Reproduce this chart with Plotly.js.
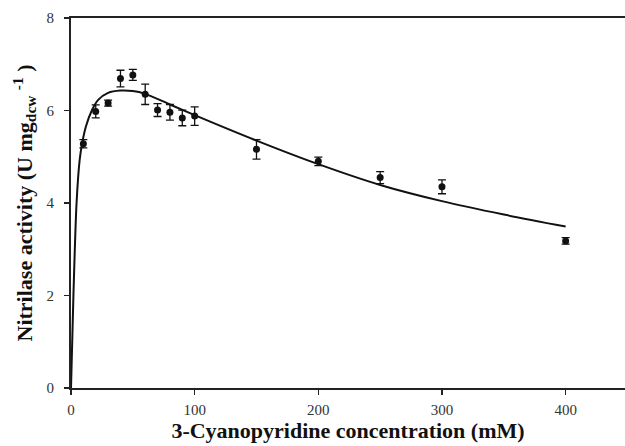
<!DOCTYPE html>
<html>
<head>
<meta charset="utf-8">
<script src="https://cdn.plot.ly/plotly-3.0.1.min.js"></script>
<style>html,body{margin:0;padding:0;background:#fff;}#chart{width:625px;height:446px;}</style>
</head>
<body>
<div id="chart"></div>
<script>
// Measured points (3-cyanopyridine concentration, mM)
var concentration = [10, 20, 30, 40, 50, 60, 70, 80, 90, 100, 150, 200, 250, 300, 400];
var activity      = [5.28, 5.98, 6.16, 6.69, 6.77, 6.35, 6.01, 5.96, 5.84, 5.88, 5.16, 4.90, 4.55, 4.35, 3.18];
var activityErr   = [0.09, 0.14, 0.065, 0.18, 0.12, 0.22, 0.14, 0.17, 0.17, 0.20, 0.21, 0.09, 0.13, 0.15, 0.07];

// Fitted curve
var fitX = [0, 2, 4.5, 7, 9, 12, 17, 22, 30, 40, 50, 60, 80, 100, 150, 200, 250, 300, 350, 400];
var fitY = [0, 2.04, 4.0, 4.93, 5.29, 5.65, 6.01, 6.23, 6.38, 6.43, 6.42, 6.36, 6.13, 5.9, 5.35, 4.84, 4.39, 4.04, 3.75, 3.49];

var xTicks = [0, 100, 200, 300, 400];
var yTicks = [0, 2, 4, 6, 8];

var serif = "Liberation Serif, Times New Roman, serif";

var traces = [
  {
    x: fitX, y: fitY, type: 'scatter', mode: 'lines',
    line: {color: '#111', width: 2, shape: 'spline', smoothing: 0.8},
    hoverinfo: 'skip', cliponaxis: false
  },
  {
    x: concentration, y: activity, type: 'scatter', mode: 'markers',
    marker: {color: '#111', size: 7},
    error_y: {type: 'data', array: activityErr, visible: true, color: '#111', thickness: 1.3, width: 4}
  }
];

var layout = {
  width: 625, height: 446,
  margin: {l: 71, r: 0, t: 18, b: 58},
  paper_bgcolor: '#fff', plot_bgcolor: '#fff',
  showlegend: false,
  font: {family: serif, color: '#222'},
  xaxis: {
    range: [0, 448], tickvals: xTicks, ticktext: xTicks.map(String),
    showgrid: false, zeroline: false,
    showline: true, linecolor: '#222', linewidth: 2, mirror: true,
    ticks: 'outside', ticklen: 5, tickwidth: 1.5, tickcolor: '#222',
    tickfont: {family: serif, size: 15, color: '#333'},
    ticklabelstandoff: 2,
    title: {text: '<b>3-Cyanopyridine concentration (mM)</b>', font: {family: serif, size: 22, color: '#111'}, standoff: 6}
  },
  yaxis: {
    range: [0, 8], tickvals: yTicks, ticktext: yTicks.map(String),
    showgrid: false, zeroline: false,
    showline: true, linecolor: '#222', linewidth: 2, mirror: false,
    ticks: 'outside', ticklen: 5, tickwidth: 1.5, tickcolor: '#222',
    tickfont: {family: serif, size: 15, color: '#333'},
    ticklabelstandoff: 7,
    title: {text: '<b>Nitrilase activity (U mg<sub>dcw</sub> <sup>-1</sup> )</b>', font: {family: serif, size: 22, color: '#111'}, standoff: 8}
  }
};

Plotly.newPlot('chart', traces, layout, {staticPlot: true, displayModeBar: false});
</script>
</body>
</html>
